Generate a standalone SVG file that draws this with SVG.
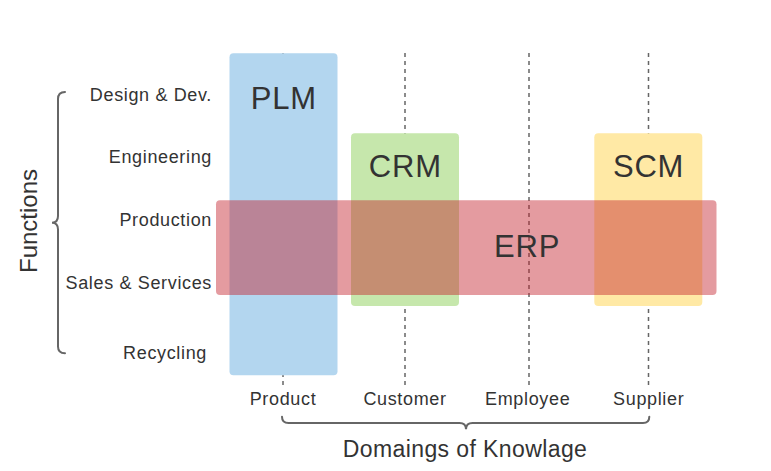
<svg xmlns="http://www.w3.org/2000/svg" width="771" height="471" viewBox="0 0 771 471">
<style>
.lbl{font-family:"Liberation Sans",Arial,sans-serif;font-size:18px;fill:#333;letter-spacing:0.65px}
.big{font-family:"Liberation Sans",Arial,sans-serif;font-size:31px;fill:#333;text-anchor:middle;letter-spacing:0.8px}
.dash{stroke:#666;stroke-width:1.5;stroke-dasharray:4 4;fill:none}
.brace{stroke:#666;stroke-width:2;fill:none;stroke-linecap:round}
</style>
<rect width="771" height="471" fill="#fff"/>
<g id="connectors">
<line class="dash" x1="283" y1="53" x2="283" y2="387"/>
<line class="dash" x1="405" y1="53" x2="405" y2="387"/>
<line class="dash" x1="529" y1="53" x2="529" y2="387"/>
<line class="dash" x1="648.5" y1="53" x2="648.5" y2="387"/>
<path class="brace" d="M65,92 Q58,92 58,99 L58,216 Q58,222.7 52,222.7 Q58,222.7 58,229.5 L58,346.5 Q58,353.3 65,353.3"/>
<path class="brace" d="M282,416.7 Q282,423 288.5,423 L459.5,423 Q466,423 466,429.3 Q466,423 472.5,423 L643,423 Q649.3,423 649.3,416.7"/>
</g>
<g id="plm"><rect x="229.5" y="53.3" width="108" height="322" rx="4" fill="#b3d6ef"/><text class="big" x="283.8" y="109.3">PLM</text></g>
<g id="crm"><rect x="351" y="133.3" width="108" height="172.7" rx="4" fill="#c6e7ac"/><text class="big" x="405.3" y="176.7">CRM</text></g>
<g id="scm"><rect x="594.3" y="133.3" width="108" height="172.7" rx="4" fill="#ffe9a5"/><text class="big" x="648.6" y="177.3">SCM</text></g>
<g id="erp"><rect x="216" y="200.3" width="500.5" height="94.7" rx="4" fill="#c3212c" fill-opacity="0.45"/><text class="big" x="527.2" y="257.3">ERP</text></g>
<g id="functions">
<text class="lbl" x="212" y="101" text-anchor="end">Design &amp; Dev.</text>
<text class="lbl" x="212" y="163.3" text-anchor="end">Engineering</text>
<text class="lbl" x="212" y="226" text-anchor="end">Production</text>
<text class="lbl" x="212" y="289.3" text-anchor="end">Sales &amp; Services</text>
<text class="lbl" x="207" y="359.3" text-anchor="end">Recycling</text>
<text transform="translate(37.3,221) rotate(-90)" font-family="Liberation Sans,Arial,sans-serif" font-size="24" fill="#333" text-anchor="middle">Functions</text>
</g>
<g id="domains">
<text class="lbl" x="283" y="405" text-anchor="middle">Product</text>
<text class="lbl" x="405" y="405" text-anchor="middle">Customer</text>
<text class="lbl" x="527.7" y="405" text-anchor="middle">Employee</text>
<text class="lbl" x="648.7" y="405" text-anchor="middle">Supplier</text>
<text x="465" y="456.7" font-family="Liberation Sans,Arial,sans-serif" font-size="23" fill="#333" text-anchor="middle" letter-spacing="0.4">Domaings of Knowlage</text>
</g>
</svg>
